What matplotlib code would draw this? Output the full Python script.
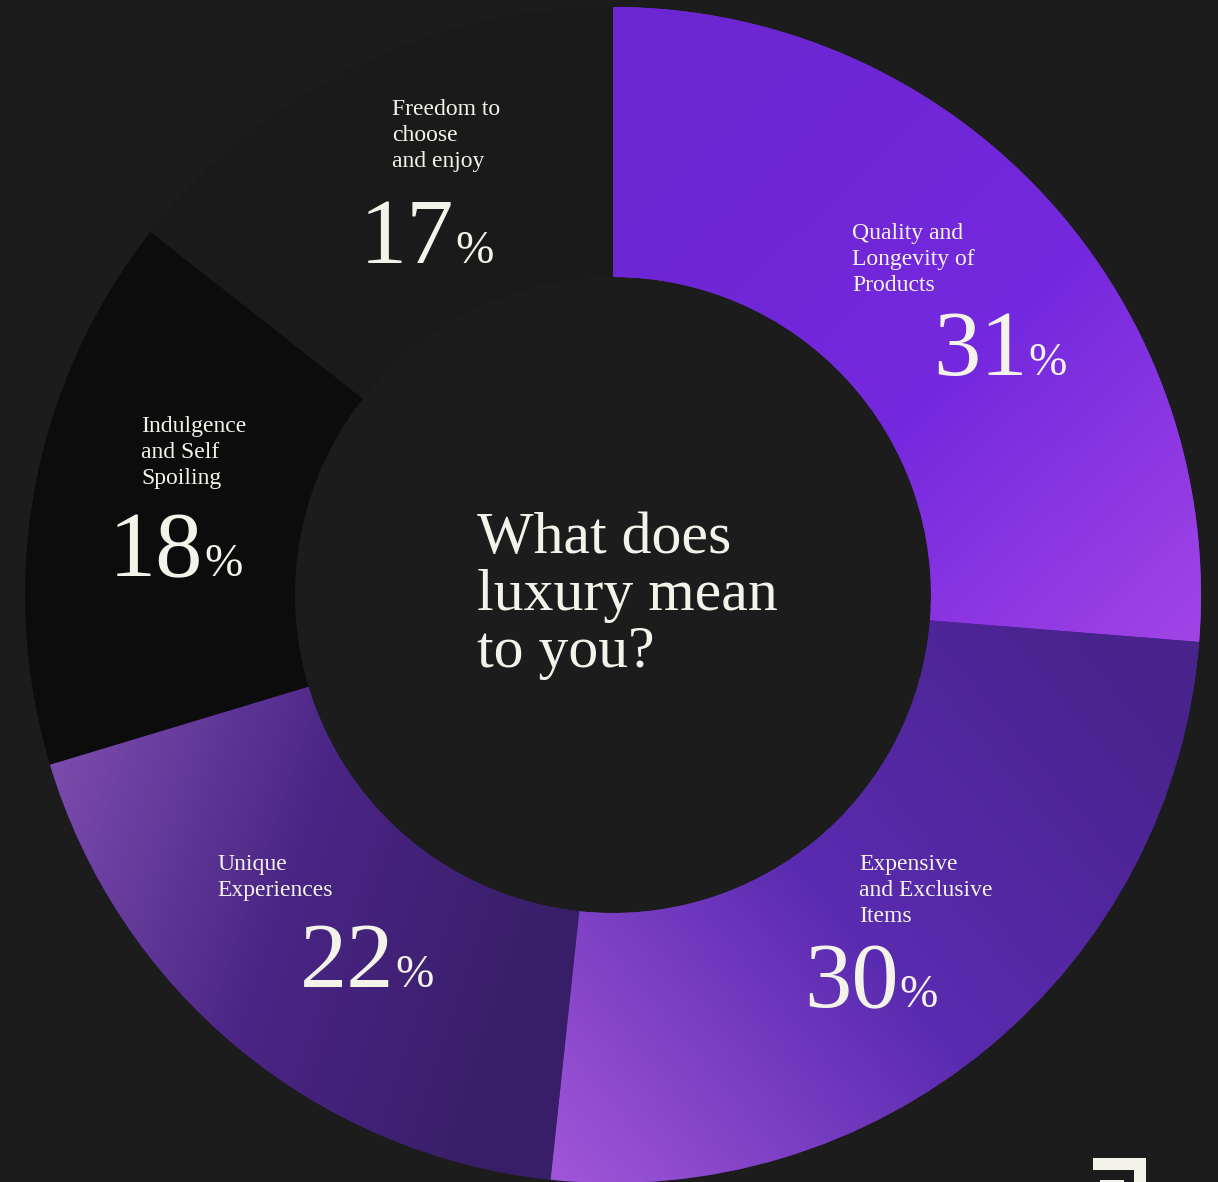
import numpy as np
import matplotlib
matplotlib.use("Agg")
import matplotlib.pyplot as plt
from matplotlib.colors import LinearSegmentedColormap
from matplotlib.patches import Rectangle

# ---- data ----
categories = ["Quality and\nLongevity of\nProducts",
              "Expensive\nand Exclusive\nItems",
              "Unique\nExperiences",
              "Indulgence\nand Self\nSpoiling",
              "Freedom to\nchoose\nand enjoy"]
values = [31, 30, 22, 18, 17]
title_text = "What does\nluxury mean\nto you?"

# ---- style ----
W, H = 1218, 1182
BG = "#1c1c1c"
TXT = "#f4f3ea"
FONT = ["Liberation Serif", "DejaVu Serif"]
base_colors = ["#7429dd", "#5a2bae", "#4a2585", "#0c0c0c", "#1a1a1a"]
# gradient (p0 colour -> p1 colour), points in pixel coords (y down)
gradients = [
    (((700, 120), (1200, 650)), ["#6c26d2", "#7529de", "#a245e6"]),
    (((1150, 690), (560, 1180)), ["#49238c", "#5a2bb0", "#a055d8"]),
    (((560, 930), (50, 760)), ["#381e68", "#4a2585", "#7b4cae"]),
    None,
    None,
]
cx, cy = 613, 595
R_out, R_in = 588, 318
label_pos = [(852, 239), (859, 870), (217, 870), (141, 432), (392, 115)]
num_pos = [(933, 375), (804, 1007), (300, 987), (109, 576), (360, 263)]

fig = plt.figure(figsize=(W / 100, H / 100), dpi=100, facecolor=BG)
ax = fig.add_axes([0, 0, 1, 1])
ax.set_facecolor(BG)

wedges, _ = ax.pie(values, colors=base_colors, startangle=90, counterclock=False,
                   radius=R_out, center=(cx, H - cy),
                   wedgeprops=dict(width=R_out - R_in, linewidth=0))

yy, xx = np.mgrid[0:H, 0:W] + 0.5
for w, g in zip(wedges, gradients):
    if g is None:
        continue
    (p0, p1), cols = g
    d = np.array(p1, float) - np.array(p0, float)
    t = ((xx - p0[0]) * d[0] + (yy - p0[1]) * d[1]) / (d @ d)
    t = np.clip(t, 0, 1)
    cmap = LinearSegmentedColormap.from_list("g", cols)
    im = ax.imshow(t, cmap=cmap, vmin=0, vmax=1, extent=(0, W, 0, H),
                   origin="upper", interpolation="bilinear", zorder=2)
    im.set_clip_path(w)

ax.set_xlim(0, W)
ax.set_ylim(0, H)
ax.set_aspect("auto")
ax.axis("off")

# centre question
for i, line in enumerate(title_text.split("\n")):
    ax.text(477, H - (553 + i * 57), line, fontsize=43, family=FONT,
            color=TXT, ha="left", va="baseline", zorder=5)

renderer = fig.canvas.get_renderer()
for cat, v, (lx, ly), (nx, ny) in zip(categories, values, label_pos, num_pos):
    for i, line in enumerate(cat.split("\n")):
        ax.text(lx, H - (ly + i * 26), line, fontsize=17, family=FONT,
                color=TXT, ha="left", va="baseline", zorder=5)
    t = ax.text(nx, H - ny, f"{v}", fontsize=68, family=FONT, color=TXT,
                ha="left", va="baseline", zorder=5)
    bb = t.get_window_extent(renderer)
    ax.text(bb.x1 + 1, H - ny, "%", fontsize=33, family=FONT, color=TXT,
            ha="left", va="baseline", zorder=5)

# small logo mark bottom right
ax.add_patch(Rectangle((1093, H - 1182), 53, 24, color=TXT, lw=0, zorder=6))
ax.add_patch(Rectangle((1093, H - 1182), 41, 12, color=BG, lw=0, zorder=7))
ax.add_patch(Rectangle((1100, H - 1182), 24, 2, color=TXT, lw=0, zorder=8))

fig.savefig("out.png", dpi=100, facecolor=BG)
